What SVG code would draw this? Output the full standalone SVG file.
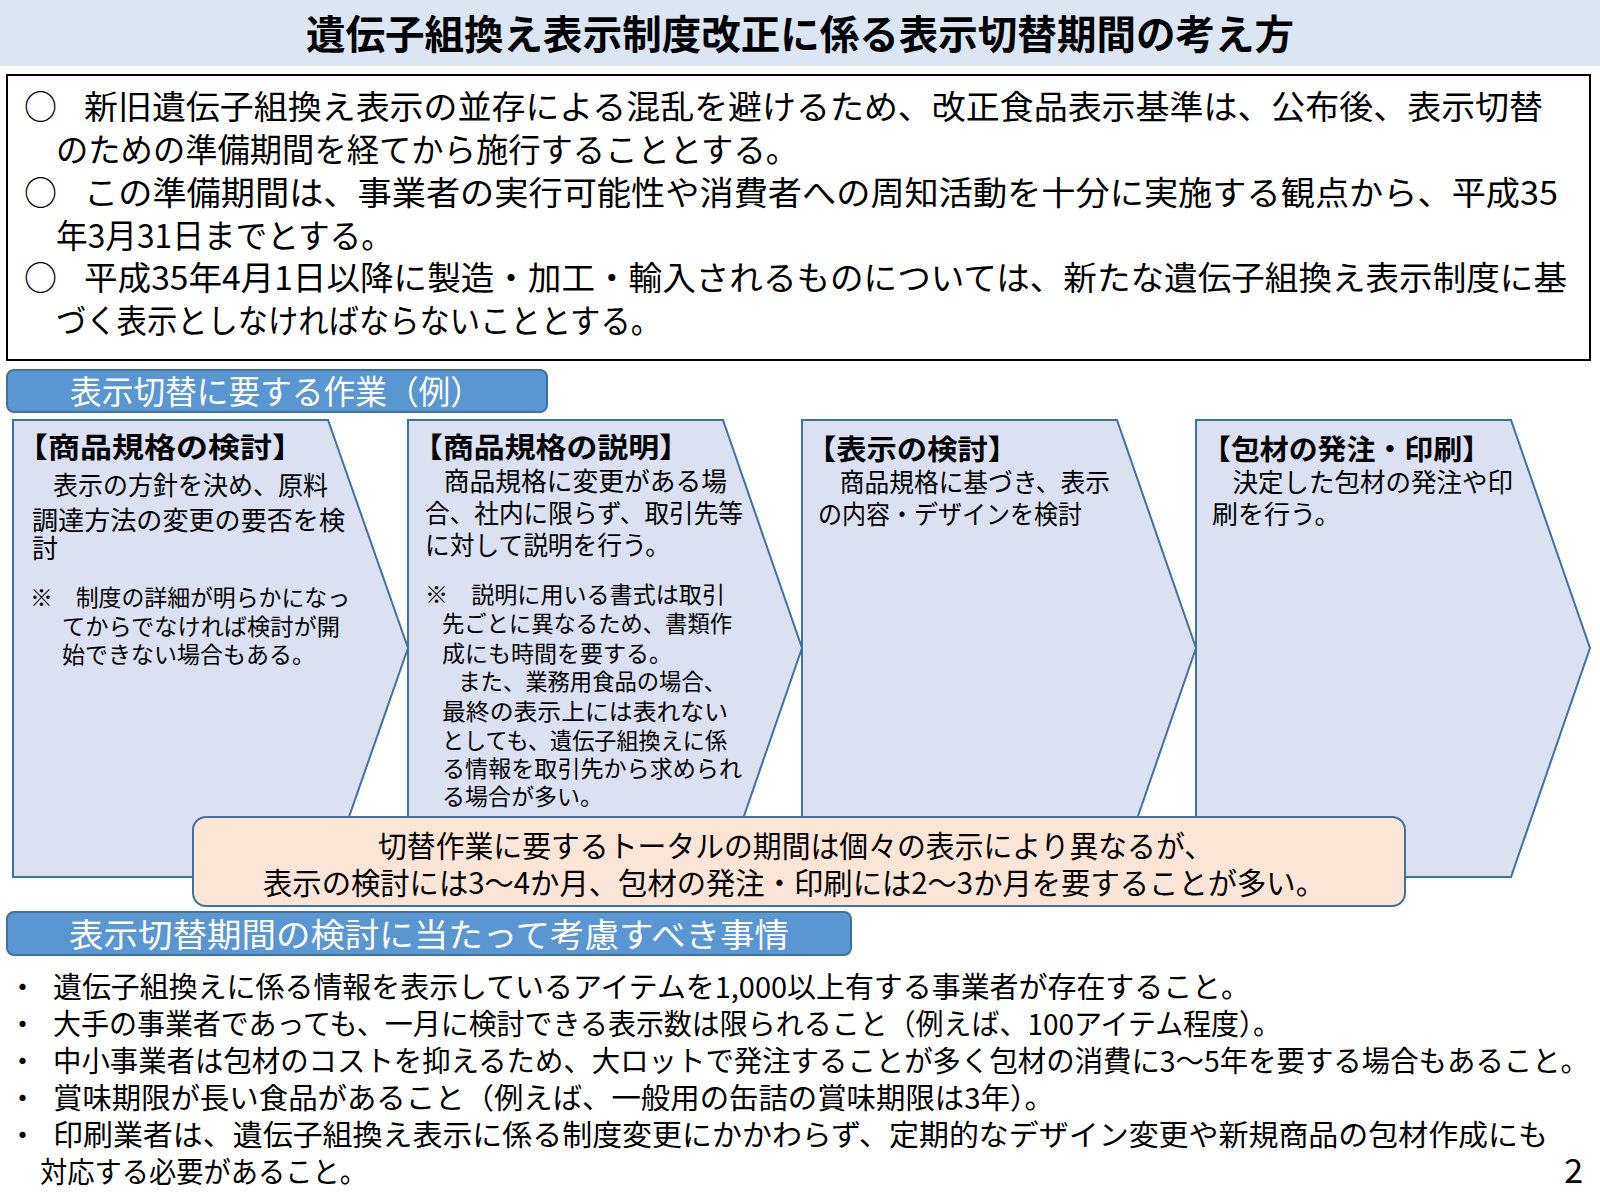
<svg xmlns="http://www.w3.org/2000/svg" width="1600" height="1200" viewBox="0 0 1600 1200">
<style>
text { font-family: "Noto Sans CJK JP", "Noto Sans", sans-serif; fill: #000; }
.ttl { font-size: 40px; font-weight: bold; }
.intro { font-size: 33px; }
.hdr { font-size: 33px; fill: #fff; }
.hdrbox { fill: #5a96d2; stroke: #41719c; stroke-width: 2; }
.chev { fill: #dbe1f1; stroke: #41719c; stroke-width: 2; }
.ct { font-size: 28px; font-weight: bold; }
.cb { font-size: 26px; }
.cn { font-size: 23px; }
.ob { font-size: 30px; }
.bl { font-size: 29px; }
</style>
<rect x="0" y="0" width="1600" height="66" fill="#dce6f2"/>
<text class="ttl" x="306" y="49" textLength="988" lengthAdjust="spacingAndGlyphs">遺伝子組換え表示制度改正に係る表示切替期間の考え方</text>

<g id="intro">
<rect x="7" y="75" width="1583" height="285" fill="#fff" stroke="#000" stroke-width="2"/>
<text class="intro" x="24" y="119">○</text>
<text class="intro" x="84" y="119" textLength="1459" lengthAdjust="spacingAndGlyphs">新旧遺伝子組換え表示の並存による混乱を避けるため、改正食品表示基準は、公布後、表示切替</text>
<text class="intro" x="56" y="162" textLength="742" lengthAdjust="spacingAndGlyphs">のための準備期間を経てから施行することとする。</text>
<text class="intro" x="24" y="205">○</text>
<text class="intro" x="84" y="205" textLength="1474" lengthAdjust="spacingAndGlyphs">この準備期間は、事業者の実行可能性や消費者への周知活動を十分に実施する観点から、平成35</text>
<text class="intro" x="56" y="248" textLength="337" lengthAdjust="spacingAndGlyphs">年3月31日までとする。</text>
<text class="intro" x="24" y="290">○</text>
<text class="intro" x="84" y="290" textLength="1483" lengthAdjust="spacingAndGlyphs">平成35年4月1日以降に製造・加工・輸入されるものについては、新たな遺伝子組換え表示制度に基</text>
<text class="intro" x="56" y="333" textLength="605" lengthAdjust="spacingAndGlyphs">づく表示としなければならないこととする。</text>
</g>

<g id="header1">
<rect class="hdrbox" x="7" y="370" width="540" height="42" rx="7"/>
<text class="hdr" x="70" y="404" textLength="412" lengthAdjust="spacingAndGlyphs">表示切替に要する作業（例）</text>
</g>

<g id="step1">
<polygon class="chev" points="13,420 328,420 408,648 328,877 13,877"/>
<text class="ct" x="16" y="458" textLength="288" lengthAdjust="spacingAndGlyphs">【商品規格の検討】</text>
<text class="cb" x="28" y="495" textLength="300" lengthAdjust="spacingAndGlyphs">　表示の方針を決め、原料</text>
<text class="cb" x="32" y="530" textLength="313" lengthAdjust="spacingAndGlyphs">調達方法の変更の要否を検</text>
<text class="cb" x="32" y="558">討</text>
<text class="cn" x="30" y="606" textLength="320" lengthAdjust="spacingAndGlyphs">※　制度の詳細が明らかになっ</text>
<text class="cn" x="62" y="635" textLength="278" lengthAdjust="spacingAndGlyphs">てからでなければ検討が開</text>
<text class="cn" x="62" y="663">始できない場合もある。</text>
</g>

<g id="step2">
<polygon class="chev" points="408,420 723,420 802,648 723,877 408,877"/>
<text class="ct" x="412" y="458" textLength="278" lengthAdjust="spacingAndGlyphs">【商品規格の説明】</text>
<text class="cb" x="418" y="491" textLength="309" lengthAdjust="spacingAndGlyphs">　商品規格に変更がある場</text>
<text class="cb" x="425" y="523" textLength="318" lengthAdjust="spacingAndGlyphs">合、社内に限らず、取引先等</text>
<text class="cb" x="425" y="555" textLength="245" lengthAdjust="spacingAndGlyphs">に対して説明を行う。</text>
<text class="cn" x="425" y="603" textLength="300" lengthAdjust="spacingAndGlyphs">※　説明に用いる書式は取引</text>
<text class="cn" x="442" y="632" textLength="290" lengthAdjust="spacingAndGlyphs">先ごとに異なるため、書類作</text>
<text class="cn" x="442" y="662">成にも時間を要する。</text>
<text class="cn" x="436" y="690" textLength="290" lengthAdjust="spacingAndGlyphs">　また、業務用食品の場合、</text>
<text class="cn" x="442" y="720" textLength="286" lengthAdjust="spacingAndGlyphs">最終の表示上には表れない</text>
<text class="cn" x="442" y="749" textLength="285" lengthAdjust="spacingAndGlyphs">としても、遺伝子組換えに係</text>
<text class="cn" x="442" y="777" textLength="300" lengthAdjust="spacingAndGlyphs">る情報を取引先から求められ</text>
<text class="cn" x="442" y="805">る場合が多い。</text>
</g>

<g id="step3">
<polygon class="chev" points="802,420 1117,420 1196,648 1117,877 802,877"/>
<text class="ct" x="806" y="460" textLength="212" lengthAdjust="spacingAndGlyphs">【表示の検討】</text>
<text class="cb" x="815" y="492" textLength="295" lengthAdjust="spacingAndGlyphs">　商品規格に基づき、表示</text>
<text class="cb" x="818" y="524" textLength="264" lengthAdjust="spacingAndGlyphs">の内容・デザインを検討</text>
</g>

<g id="step4">
<polygon class="chev" points="1196,420 1511,420 1590,648 1511,877 1196,877"/>
<text class="ct" x="1202" y="460" textLength="289" lengthAdjust="spacingAndGlyphs">【包材の発注・印刷】</text>
<text class="cb" x="1207" y="492" textLength="306" lengthAdjust="spacingAndGlyphs">　決定した包材の発注や印</text>
<text class="cb" x="1212" y="524">刷を行う。</text>
</g>

<g id="total">
<rect x="193" y="817" width="1212" height="89" rx="13" fill="#fbe5d6" stroke="#41719c" stroke-width="2"/>
<text class="ob" x="378" y="857" textLength="835" lengthAdjust="spacingAndGlyphs">切替作業に要するトータルの期間は個々の表示により異なるが、</text>
<text class="ob" x="263" y="894" textLength="1062" lengthAdjust="spacingAndGlyphs">表示の検討には3～4か月、包材の発注・印刷には2～3か月を要することが多い。</text>
</g>

<g id="header2">
<rect class="hdrbox" x="7" y="912" width="844" height="43" rx="7"/>
<text class="hdr" x="69" y="947" textLength="720" lengthAdjust="spacingAndGlyphs">表示切替期間の検討に当たって考慮すべき事情</text>
</g>

<g id="factors">
<text class="bl" x="8" y="998">・</text>
<text class="bl" x="53" y="998" textLength="1197" lengthAdjust="spacingAndGlyphs">遺伝子組換えに係る情報を表示しているアイテムを1,000以上有する事業者が存在すること。</text>
<text class="bl" x="8" y="1035">・</text>
<text class="bl" x="53" y="1035" textLength="1228" lengthAdjust="spacingAndGlyphs">大手の事業者であっても、一月に検討できる表示数は限られること（例えば、100アイテム程度）。</text>
<text class="bl" x="8" y="1072">・</text>
<text class="bl" x="53" y="1072" textLength="1536" lengthAdjust="spacingAndGlyphs">中小事業者は包材のコストを抑えるため、大ロットで発注することが多く包材の消費に3～5年を要する場合もあること。</text>
<text class="bl" x="8" y="1109">・</text>
<text class="bl" x="53" y="1109" textLength="1001" lengthAdjust="spacingAndGlyphs">賞味期限が長い食品があること（例えば、一般用の缶詰の賞味期限は3年）。</text>
<text class="bl" x="8" y="1146">・</text>
<text class="bl" x="53" y="1146" textLength="1495" lengthAdjust="spacingAndGlyphs">印刷業者は、遺伝子組換え表示に係る制度変更にかかわらず、定期的なデザイン変更や新規商品の包材作成にも</text>
<text class="bl" x="40" y="1183" textLength="327" lengthAdjust="spacingAndGlyphs">対応する必要があること。</text>
<text class="bl" x="1583" y="1183" text-anchor="end" style="font-size:34px">2</text>
</g>
</svg>
